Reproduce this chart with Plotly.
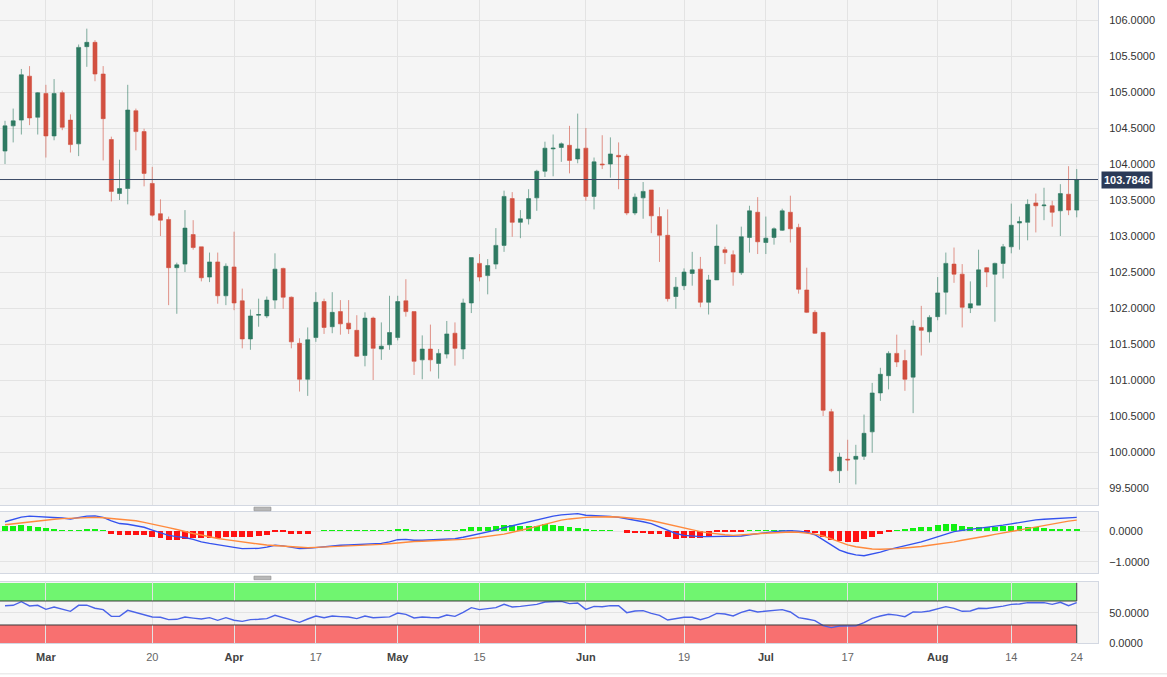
import pandas as pd
import plotly.graph_objects as go

# ---------------- data ----------------
dates = pd.bdate_range("2023-02-22", "2023-08-24").strftime("%Y-%m-%d").tolist()

open_ = [104.18,104.53,104.61,105.22,104.65,104.98,104.39,104.99,104.61,104.28,
         105.63,105.69,105.25,104.34,103.59,103.66,104.74,104.45,103.73,103.31,
         103.23,102.56,102.61,103.02,102.85,102.43,102.64,102.17,102.57,102.10,
         101.57,101.90,101.89,102.11,102.55,102.15,101.51,101.01,101.59,102.09,
         101.74,101.95,101.79,101.69,101.34,101.86,101.43,101.49,101.59,102.10,
         101.95,101.28,101.43,101.23,101.36,101.65,101.43,102.07,102.62,102.45,
         102.61,102.87,103.52,103.19,103.24,103.53,103.90,104.21,104.23,104.26,
         104.07,104.22,103.55,104.00,104.00,104.12,104.11,103.32,103.53,103.64,
         103.27,103.01,102.16,102.31,102.48,102.54,102.08,102.39,102.81,102.74,
         102.49,102.98,103.33,102.91,102.98,103.08,103.33,103.12,102.25,101.94,
         101.66,100.56,99.74,99.90,99.90,99.94,100.28,100.82,101.06,101.37,
         101.27,101.04,101.73,101.67,101.88,102.22,102.61,102.47,102.00,102.04,
         102.56,102.47,102.62,102.85,103.18,103.19,103.46,103.42,103.42,103.35,
         103.58,103.36]
high = [104.60,104.77,105.32,105.36,105.00,105.10,105.18,105.02,104.69,105.66,
        105.88,105.72,105.36,104.38,104.06,105.10,104.77,104.49,103.96,103.51,
        103.27,102.63,103.36,103.22,102.85,102.77,102.77,102.62,103.06,102.27,
        101.98,102.13,102.16,102.76,102.56,102.16,101.58,101.73,102.22,102.13,
        102.22,102.11,102.11,101.90,101.94,101.88,101.80,102.17,102.17,102.40,
        101.95,101.62,101.77,101.43,101.82,101.80,102.13,102.70,102.75,102.68,
        103.11,103.63,103.61,103.36,103.65,103.92,104.31,104.41,104.30,104.53,
        104.70,104.50,104.09,104.40,104.37,104.30,104.14,103.59,103.75,103.64,
        103.40,103.37,102.43,102.55,102.78,102.71,102.46,103.16,102.85,102.80,
        103.13,103.42,103.54,103.27,103.12,103.38,103.56,103.17,102.56,101.97,
        101.67,100.60,99.99,100.17,100.10,100.52,100.96,101.17,101.40,101.63,
        101.42,101.83,102.03,101.90,102.43,102.77,102.84,102.61,102.37,102.81,
        102.57,102.63,102.89,103.45,103.27,103.51,103.59,103.67,103.49,103.72,
        103.97,103.93]
low = [104.00,104.30,104.41,104.54,104.41,104.09,104.33,104.47,104.16,104.11,
       105.35,105.15,104.05,103.48,103.50,103.44,104.19,103.69,103.27,103.00,
       102.04,101.92,102.50,102.81,102.37,102.36,102.06,102.04,101.97,101.44,
       101.42,101.74,101.86,101.99,101.99,101.44,100.84,100.78,101.53,101.64,
       101.65,101.63,101.64,101.32,101.19,101.00,101.28,101.42,101.55,101.88,
       101.07,101.01,101.12,101.02,101.30,101.20,101.29,101.93,102.37,102.19,
       102.54,102.78,102.99,102.97,103.16,103.35,103.82,103.83,104.03,103.87,
       104.01,103.49,103.37,103.93,103.81,103.65,103.29,103.29,103.24,103.04,
       102.64,102.09,101.99,102.25,102.31,102.01,101.91,102.39,102.61,102.31,
       102.46,102.77,102.75,102.75,102.88,103.07,102.91,102.20,101.93,101.64,
       100.50,99.72,99.57,99.74,99.55,99.89,99.99,100.71,100.87,101.18,
       100.85,100.54,101.34,101.52,101.83,101.91,102.35,101.73,101.93,102.04,
       102.29,101.81,102.41,102.76,102.81,102.94,103.05,103.22,103.13,103.00,
       103.29,103.26]
close = [104.53,104.60,105.24,104.64,104.99,104.39,104.98,104.51,104.27,105.62,
         105.69,105.25,104.63,103.62,103.66,104.75,104.45,103.87,103.29,103.22,
         102.56,102.60,103.11,102.84,102.42,102.64,102.17,102.58,102.07,101.57,
         101.89,101.91,102.11,102.54,102.15,101.53,101.01,101.56,102.08,101.73,
         101.94,101.78,101.71,101.33,101.86,101.44,101.47,101.66,102.09,101.95,
         101.26,101.43,101.28,101.37,101.64,101.44,102.07,102.70,102.43,102.59,
         102.87,103.55,103.19,103.24,103.52,103.90,104.22,104.22,104.28,104.05,
         104.21,103.55,104.03,103.99,104.14,104.10,103.32,103.54,103.62,103.28,
         103.01,102.13,102.29,102.50,102.53,102.08,102.39,102.86,102.77,102.50,
         102.99,103.35,102.92,102.97,103.10,103.35,103.10,102.26,101.94,101.65,
         100.58,99.74,99.93,99.89,99.94,100.26,100.82,101.08,101.37,101.25,
         101.01,101.75,101.69,101.87,102.21,102.62,102.47,102.01,102.06,102.53,
         102.50,102.62,102.85,103.15,103.20,103.44,103.42,103.43,103.33,103.59,
         103.36,103.7846]
last_price = 103.7846

macd = [0.30,0.38,0.45,0.48,0.47,0.46,0.44,0.42,0.39,0.44,
        0.48,0.49,0.44,0.33,0.24,0.22,0.17,0.12,0.03,-0.05,
        -0.14,-0.18,-0.21,-0.27,-0.35,-0.40,-0.45,-0.49,-0.53,-0.57,
        -0.57,-0.56,-0.52,-0.46,-0.48,-0.52,-0.57,-0.56,-0.53,-0.51,
        -0.48,-0.46,-0.45,-0.44,-0.42,-0.41,-0.40,-0.35,-0.28,-0.27,
        -0.30,-0.30,-0.29,-0.29,-0.27,-0.25,-0.20,-0.14,-0.08,-0.04,
        0.03,0.11,0.17,0.23,0.30,0.37,0.43,0.48,0.52,0.55,
        0.56,0.51,0.50,0.48,0.47,0.44,0.40,0.36,0.30,0.24,
        0.14,0.02,-0.08,-0.14,-0.17,-0.18,-0.18,-0.18,-0.18,-0.17,
        -0.16,-0.12,-0.08,-0.05,-0.02,0.00,0.01,-0.01,-0.04,-0.12,
        -0.28,-0.46,-0.62,-0.71,-0.77,-0.80,-0.75,-0.68,-0.60,-0.54,
        -0.49,-0.43,-0.35,-0.27,-0.19,-0.10,-0.02,0.02,0.05,0.08,
        0.12,0.15,0.19,0.23,0.28,0.32,0.36,0.38,0.40,0.42,
        0.43,0.44]
signal = [0.20,0.23,0.27,0.31,0.33,0.36,0.38,0.40,0.41,0.42,
          0.44,0.44,0.43,0.41,0.39,0.36,0.33,0.28,0.23,0.17,
          0.11,0.05,-0.02,-0.08,-0.13,-0.19,-0.24,-0.28,-0.32,-0.36,
          -0.40,-0.42,-0.45,-0.47,-0.50,-0.52,-0.54,-0.54,-0.53,-0.52,
          -0.51,-0.50,-0.49,-0.48,-0.47,-0.45,-0.43,-0.41,-0.38,-0.36,
          -0.34,-0.33,-0.32,-0.31,-0.30,-0.29,-0.27,-0.24,-0.21,-0.18,
          -0.14,-0.10,-0.04,0.01,0.08,0.15,0.22,0.30,0.35,0.39,
          0.42,0.44,0.45,0.46,0.46,0.45,0.43,0.41,0.38,0.34,
          0.28,0.21,0.14,0.08,0.03,-0.02,-0.06,-0.10,-0.12,-0.14,
          -0.13,-0.11,-0.09,-0.07,-0.05,-0.04,-0.03,-0.04,-0.06,-0.10,
          -0.16,-0.26,-0.37,-0.45,-0.51,-0.55,-0.58,-0.59,-0.59,-0.57,
          -0.55,-0.53,-0.50,-0.46,-0.43,-0.39,-0.35,-0.30,-0.26,-0.21,
          -0.16,-0.11,-0.06,-0.01,0.04,0.09,0.14,0.19,0.24,0.28,
          0.32,0.35]
hist = [0.16,0.16,0.18,0.15,0.13,0.09,0.075,0.03,0.01,0.03,
        0.065,0.05,0.01,-0.11,-0.14,-0.12,-0.12,-0.14,-0.21,-0.24,
        -0.29,-0.28,-0.25,-0.24,-0.24,-0.23,-0.23,-0.21,-0.20,-0.19,
        -0.18,-0.16,-0.12,-0.02,-0.01,-0.09,-0.09,-0.09,0.0,0.02,
        0.03,0.03,0.03,0.03,0.02,0.02,0.02,0.02,0.07,0.07,
        0.02,0.02,0.02,0.02,0.02,0.02,0.05,0.12,0.12,0.14,
        0.16,0.19,0.19,0.17,0.17,0.17,0.21,0.19,0.17,0.13,
        0.11,0.05,0.03,0.02,0.01,0.0,-0.05,-0.065,-0.075,-0.10,
        -0.11,-0.20,-0.26,-0.24,-0.24,-0.24,-0.20,-0.03,-0.03,-0.03,
        -0.02,0.01,0.01,0.02,0.03,0.03,0.03,0.0,-0.04,-0.065,
        -0.18,-0.30,-0.32,-0.34,-0.34,-0.27,-0.18,-0.10,-0.005,0.02,
        0.05,0.11,0.12,0.14,0.19,0.22,0.21,0.17,0.14,0.14,
        0.13,0.14,0.15,0.15,0.15,0.14,0.13,0.09,0.08,0.08,
        0.065,0.065]
rsi = [62.0,62.8,68.9,61.7,62.8,56.1,60.0,56.0,52.8,62.8,
       63.0,58.0,55.6,44.4,44.4,54.4,51.0,47.0,43.3,42.8,
       38.9,39.5,43.3,41.5,40.0,42.2,37.8,42.2,38.0,36.1,
       38.9,39.5,40.6,46.1,42.5,38.5,34.4,40.0,45.0,42.2,
       45.0,44.0,43.3,40.6,45.0,42.2,42.7,43.5,50.0,47.8,
       41.7,43.3,42.5,42.2,46.7,44.4,51.0,58.9,55.6,57.2,
       59.0,64.4,60.0,61.1,63.0,64.4,68.3,68.5,69.4,65.6,
       66.7,56.1,61.1,60.5,62.2,62.2,50.6,53.3,53.9,49.4,
       46.1,38.3,40.6,42.8,42.8,38.9,42.8,49.4,48.3,45.0,
       51.1,55.0,51.7,52.8,53.9,55.6,51.7,42.2,40.0,37.2,
       28.9,25.6,28.3,28.3,28.5,33.9,41.1,45.0,47.8,46.5,
       43.9,51.7,51.5,53.3,57.0,60.6,57.8,52.8,53.3,57.8,
       57.5,58.9,61.5,64.4,65.0,67.2,67.0,67.2,64.4,67.8,
       62.2,67.2]

tick_dates = ["2023-03-01", "2023-03-20", "2023-04-03", "2023-04-17", "2023-05-01",
              "2023-05-15", "2023-06-01", "2023-06-19", "2023-07-03", "2023-07-17",
              "2023-08-01", "2023-08-14", "2023-08-24"]
tick_labels = ["Mar", "20", "Apr", "17", "May", "15", "Jun", "19", "Jul", "17",
               "Aug", "14", "24"]
month_names = {"Mar", "Apr", "May", "Jun", "Jul", "Aug"}
price_ticks = [99.5, 100.0, 100.5, 101.0, 101.5, 102.0, 102.5, 103.0, 103.5,
               104.0, 104.5, 105.0, 105.5, 106.0]
macd_ticks = [-1.0, 0.0]
rsi_ticks = [0.0, 50.0]
rsi_upper, rsi_lower = 70, 30

# ---------------- styling ----------------
GREEN = "#2e7a62"
RED = "#d25040"
GRID = "#e3e3e3"
BORDER = "#d3d8e2"
FONT = "Liberation Sans, Arial, sans-serif"

ticktext = [f"<b>{t}</b>" if t in month_names else f"<span style='color:#666'>{t}</span>"
            for t in tick_labels]

fig = go.Figure()

fig.add_trace(go.Candlestick(
    x=dates, open=open_, high=high, low=low, close=close,
    increasing=dict(line=dict(color="rgba(46,122,98,0.6)", width=1), fillcolor=GREEN),
    decreasing=dict(line=dict(color="rgba(210,80,64,0.6)", width=1), fillcolor=RED),
    whiskerwidth=0, showlegend=False, hoverinfo="skip",
    xaxis="x", yaxis="y"))

fig.add_trace(go.Bar(
    x=dates, y=hist, width=0.72,
    marker=dict(color=["#12f012" if v >= 0 else "#ff1212" for v in hist], line=dict(width=0)),
    showlegend=False, hoverinfo="skip", xaxis="x2", yaxis="y2"))
fig.add_trace(go.Scatter(x=dates, y=macd, mode="lines",
                         line=dict(color="#3452ee", width=1.4),
                         showlegend=False, hoverinfo="skip", xaxis="x2", yaxis="y2"))
fig.add_trace(go.Scatter(x=dates, y=signal, mode="lines",
                         line=dict(color="#ff8a3d", width=1.4),
                         showlegend=False, hoverinfo="skip", xaxis="x2", yaxis="y2"))

fig.add_trace(go.Scatter(x=dates, y=rsi, mode="lines",
                         line=dict(color="#4a63e8", width=1.4),
                         showlegend=False, hoverinfo="skip", xaxis="x3", yaxis="y3"))

n = len(dates)
xr = [-0.611, 133.6]
common_x = dict(type="category", range=xr, showgrid=True, gridcolor=GRID, gridwidth=1,
                tickmode="array", tickvals=tick_dates, ticktext=ticktext,
                ticks="", showline=True, linecolor=BORDER, mirror=True, zeroline=False,
                fixedrange=True)

shapes = []
# RSI bands
shapes.append(dict(type="rect", xref="x3", yref="y3", x0=xr[0], x1=n - 1,
                   y0=rsi_upper, y1=100, fillcolor="rgb(112,245,112)",
                   line=dict(width=0), layer="below"))
shapes.append(dict(type="rect", xref="x3", yref="y3", x0=xr[0], x1=n - 1,
                   y0=0, y1=rsi_lower, fillcolor="rgb(248,112,112)",
                   line=dict(width=0), layer="below"))
for lvl in (rsi_upper, rsi_lower):
    shapes.append(dict(type="line", xref="x3", yref="y3", x0=xr[0], x1=n - 1,
                       y0=lvl, y1=lvl, line=dict(color="#3a3a3a", width=1)))
shapes.append(dict(type="line", xref="x3", yref="y3", x0=n - 1, x1=n - 1,
                   y0=rsi_upper, y1=100, line=dict(color="#3a3a3a", width=1)))
shapes.append(dict(type="line", xref="x3", yref="y3", x0=n - 1, x1=n - 1,
                   y0=0, y1=rsi_lower, line=dict(color="#3a3a3a", width=1)))
# current price line
shapes.append(dict(type="line", xref="x domain", yref="y", x0=0, x1=1,
                   y0=last_price, y1=last_price, line=dict(color="#3b4a66", width=1)))
# splitter handles
for yc in (0.2085, 0.1012):
    shapes.append(dict(type="rect", xref="paper", yref="paper", x0=0.2313, x1=0.2468,
                       y0=yc - 0.0028, y1=yc + 0.0028, fillcolor="#b8b8b8",
                       line=dict(color="#8c8c8c", width=0.6)))
# bottom separator
shapes.append(dict(type="line", xref="paper", yref="paper", x0=0, x1=1167 / 1098,
                   y0=-0.048, y1=-0.048, line=dict(color="#e2e2e2", width=1)))

fig.update_layout(
    width=1167, height=677,
    margin=dict(l=0, r=69, t=0, b=34),
    paper_bgcolor="white", plot_bgcolor="#f5f5f5",
    font=dict(family=FONT, size=11, color="#333"),
    bargap=0, boxgap=0.3,
    xaxis=dict(**common_x, domain=[0, 1], anchor="y", showticklabels=False,
               rangeslider=dict(visible=False)),
    xaxis2=dict(**common_x, domain=[0, 1], anchor="y2", matches="x", showticklabels=False),
    xaxis3=dict(**common_x, domain=[0, 1], anchor="y3", matches="x", showticklabels=True,
                tickfont=dict(size=11, color="#444"), ticklabelstandoff=4),
    yaxis=dict(domain=[0.2146, 1], range=[99.264, 106.278], side="right", anchor="x",
               tickmode="array", tickvals=price_ticks, tickformat=".4f",
               showgrid=True, gridcolor=GRID, ticks="", showline=True, linecolor=BORDER,
               mirror=True, zeroline=False, ticklabelstandoff=8, fixedrange=True,
               tickfont=dict(size=11, color="#333")),
    yaxis2=dict(domain=[0.1089, 0.2037], range=[-1.355, 0.613], side="right", anchor="x2",
                tickmode="array", tickvals=macd_ticks, tickformat=".4f",
                showgrid=True, gridcolor=GRID, ticks="", showline=True, linecolor=BORDER,
                mirror=True, zeroline=False, ticklabelstandoff=8, fixedrange=True,
                tickfont=dict(size=11, color="#333")),
    yaxis3=dict(domain=[0, 0.0949], range=[0, 101.7], side="right", anchor="x3",
                tickmode="array", tickvals=rsi_ticks, tickformat=".4f",
                showgrid=True, gridcolor=GRID, ticks="", showline=True, linecolor=BORDER,
                mirror=True, zeroline=False, ticklabelstandoff=8, fixedrange=True,
                tickfont=dict(size=11, color="#333")),
    shapes=shapes,
    annotations=[dict(xref="paper", yref="y", x=1.0, y=last_price, xanchor="left",
                      yanchor="middle", xshift=3, text=f"<b>{last_price:.4f}</b>",
                      showarrow=False, bgcolor="#2b3a57", borderpad=2,
                      font=dict(color="white", size=11, family=FONT))],
)

fig.write_html("out.html", config={"displayModeBar": False},
               post_script="document.body.style.margin='0px';document.body.style.overflow='hidden';")
